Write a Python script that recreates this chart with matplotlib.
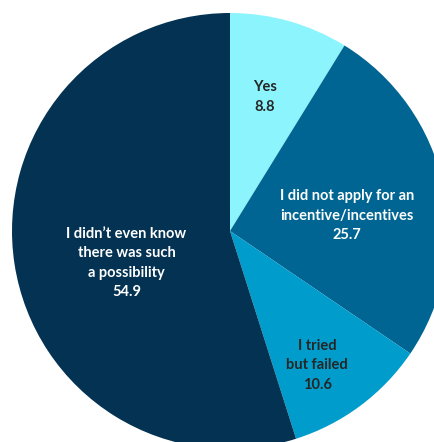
import matplotlib.pyplot as plt

# Answers and shares (%)
labels = ['Yes', 'I did not apply for an\nincentive/incentives', 'I tried\nbut failed',
          'I didn\u2019t even know\nthere was such\na possibility']
values = [8.8, 25.7, 10.6, 54.9]
colors = ['#8CF4FD', '#006592', '#009DCC', '#043252']
text_colors = ['#262626', 'white', '#262626', 'white']

# label centres in pie units (radius = 1)
label_pos = [(0.16, 0.615), (0.535, 0.07), (0.40, -0.615), (-0.475, -0.147)]

plt.rcParams['font.family'] = ['Lato', 'DejaVu Sans']

fig = plt.figure(figsize=(4.35, 4.42), dpi=100)
ax = fig.add_axes([0, 0, 1, 1])

ax.pie(values, colors=colors, startangle=90, counterclock=False, radius=1,
       wedgeprops={'linewidth': 0})

for lab, v, c, (x, y) in zip(labels, values, text_colors, label_pos):
    ax.text(x, y, f'{lab}\n{v}', ha='center', va='center', color=c,
            fontsize=10.5, fontweight='bold', linespacing=1.5)

R = 218.0
ax.set_xlim(-230 / R, (435 - 230) / R)
ax.set_ylim(-(442 - 231) / R, 231 / R)
ax.set_aspect('auto')
ax.axis('off')

fig.savefig('out.png', dpi=100)
